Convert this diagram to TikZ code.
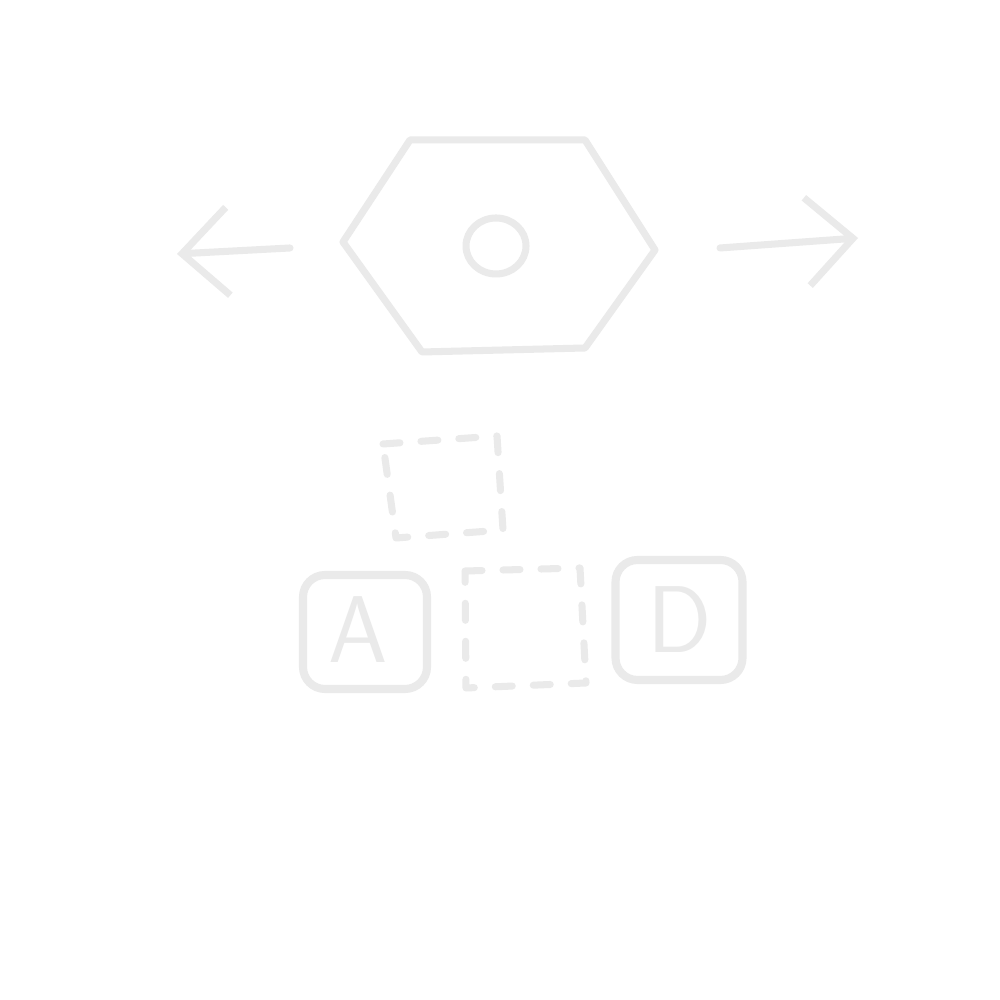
\documentclass[tikz,border=0pt]{standalone}
\usepackage{fontspec}
\usepackage{xcolor}
\usepackage{tikz}
\usetikzlibrary{arrows.meta, positioning, shapes.geometric}
\definecolor{sketchgray}{HTML}{EAEAEA}
\begin{document}
\begin{tikzpicture}[
    every node/.style={font=\sffamily},
    sketch/.style={draw=sketchgray, line width=2pt, line cap=round, line join=round},
    keybox/.style={sketch, line width=2.3pt, rounded corners=0.22cm, minimum width=1.24cm, minimum height=1.14cm, inner sep=0pt},
    slot/.style={sketch, dashed, dash pattern=on 1.7mm off 2.1mm},
    keyletter/.style={text=sketchgray, font=\fontsize{27}{30}\sffamily},
    >={Straight Barb[length=4.6mm, width=8.8mm]}
  ]
  \useasboundingbox[fill=white] (0,0) rectangle (10,10);
  % Hexagon with its hole
  \node[sketch, ellipse, minimum width=0.6cm, minimum height=0.56cm, inner sep=0pt] (hole) at (4.96,7.54) {};
  \coordinate (h1) at (4.10,8.60);
  \coordinate (h2) at (5.85,8.60);
  \coordinate (h3) at (6.55,7.50);
  \coordinate (h4) at (5.85,6.52);
  \coordinate (h5) at (4.22,6.48);
  \coordinate (h6) at (3.43,7.58);
  \draw[sketch] (h1) -- (h2) -- (h3) -- (h4) -- (h5) -- (h6) -- cycle;
  % Arrows
  \coordinate (lstart) at (2.90,7.52);
  \coordinate (lend) at (1.77,7.46);
  \coordinate (rstart) at (7.20,7.52);
  \coordinate (rend) at (8.58,7.62);
  \draw[sketch, ->] (lstart) -- (lend);
  \draw[sketch, ->] (rstart) -- (rend);
  % Empty slots
  \coordinate (s1) at (3.83,5.56);
  \coordinate (s2) at (4.97,5.64);
  \coordinate (s3) at (5.03,4.70);
  \coordinate (s4) at (3.96,4.62);
  \draw[slot] (s1) -- (s2) -- (s3) -- (s4) -- cycle;
  \coordinate (m1) at (4.65,4.29);
  \coordinate (m2) at (5.80,4.32);
  \coordinate (m3) at (5.86,3.17);
  \coordinate (m4) at (4.66,3.12);
  \draw[slot] (m1) -- (m2) -- (m3) -- (m4) -- cycle;
  % Keys
  \node[keybox] (keya) at (3.65,3.68) {};
  \node[keyletter] (lettera) at (3.58,3.70) {A};
  \node[keybox, minimum width=1.27cm, minimum height=1.2cm] (keyd) at (6.79,3.80) {};
  \node[keyletter] (letterd) at (6.80,3.80) {D};
\end{tikzpicture}
\end{document}
